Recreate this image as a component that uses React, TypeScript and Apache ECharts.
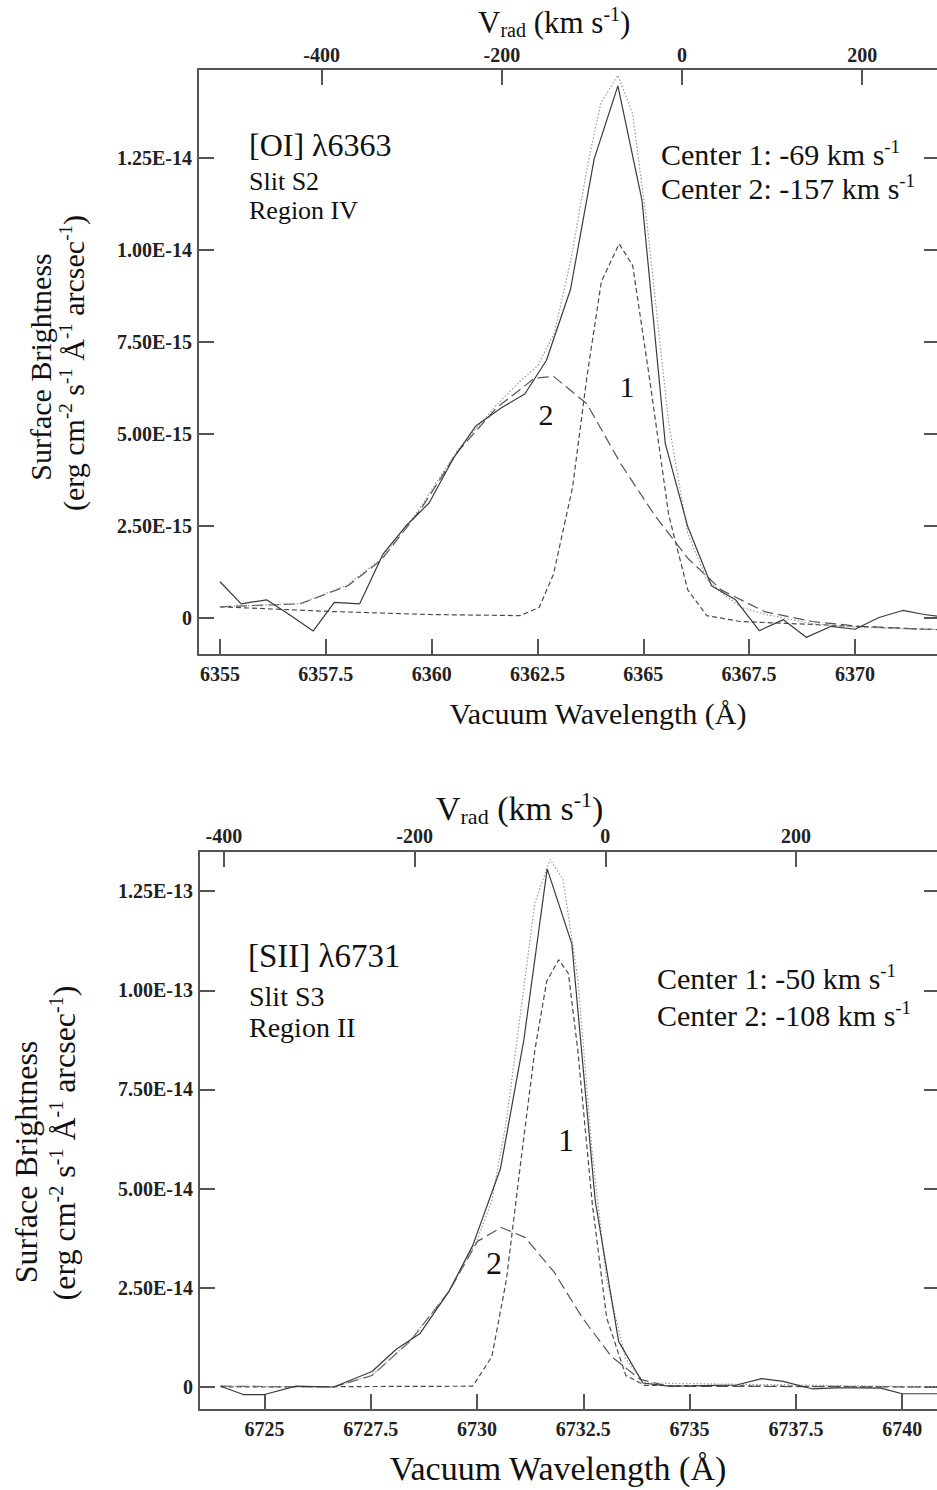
import React, { useEffect, useRef } from "react";
import * as echarts from "echarts";

// ---------- Top panel: [OI] λ6363, Slit S2, Region IV (flux in units of 1e-15) ----------
const oiObsWave = [6355.0, 6355.5, 6356.1, 6356.67, 6357.2, 6357.7, 6358.3, 6358.85, 6359.38, 6359.94, 6360.5, 6361.05, 6361.64, 6362.2, 6362.71, 6363.28, 6363.84, 6364.4, 6364.97, 6365.52, 6366.05, 6366.61, 6367.18, 6367.74, 6368.31, 6368.85, 6369.44, 6370.0, 6370.57, 6371.13, 6371.64, 6372.0];
const oiObsFlux = [0.99, 0.39, 0.5, 0.07, -0.35, 0.43, 0.39, 1.74, 2.49, 3.13, 4.32, 5.23, 5.71, 6.09, 7.0, 8.93, 12.48, 14.46, 11.35, 4.74, 2.49, 0.88, 0.5, -0.34, -0.04, -0.52, -0.22, -0.3, 0.02, 0.21, 0.1, 0.05];

const oiFitWave = [6355.0, 6356.9, 6358.0, 6358.8, 6359.7, 6360.6, 6361.5, 6362.1, 6362.5, 6362.9, 6363.3, 6363.7, 6364.0, 6364.4, 6364.75, 6365.1, 6365.6, 6366.05, 6366.5, 6366.85, 6367.3, 6367.9, 6369.0, 6370.1, 6371.6, 6372.0];
const oiFitFlux = [0.31, 0.4, 0.9, 1.6, 2.95, 4.55, 5.75, 6.45, 6.85, 7.75, 9.8, 12.4, 14.0, 14.75, 13.7, 10.6, 5.3, 2.3, 1.05, 0.7, 0.3, 0.1, -0.15, -0.25, -0.3, -0.31];

const oiC1Wave = [6355.0, 6357.68, 6359.94, 6362.09, 6362.54, 6362.88, 6363.33, 6363.67, 6364.01, 6364.43, 6364.75, 6365.14, 6365.6, 6366.05, 6366.5, 6367.29, 6368.99, 6371.64, 6372.0];
const oiC1Flux = [0.31, 0.18, 0.1, 0.07, 0.29, 1.2, 3.56, 6.57, 9.15, 10.17, 9.58, 6.57, 2.81, 0.77, 0.07, -0.09, -0.17, -0.3, -0.31];

const oiC2Wave = [6355.0, 6356.89, 6358.02, 6358.81, 6359.72, 6360.62, 6361.53, 6362.43, 6362.88, 6363.67, 6364.46, 6365.26, 6366.05, 6366.84, 6367.86, 6368.99, 6370.12, 6371.64, 6372.0];
const oiC2Flux = [0.31, 0.39, 0.88, 1.58, 2.92, 4.53, 5.71, 6.52, 6.57, 5.82, 4.21, 2.81, 1.63, 0.77, 0.18, -0.09, -0.22, -0.3, -0.31];

// ---------- Bottom panel: [SII] λ6731, Slit S3, Region II (flux in units of 1e-14) ----------
const siiObsWave = [6723.97, 6724.5, 6725.0, 6725.74, 6726.63, 6727.53, 6728.1, 6728.66, 6729.34, 6729.9, 6730.55, 6731.1, 6731.65, 6732.23, 6732.78, 6733.33, 6733.9, 6734.5, 6735.1, 6735.6, 6736.1, 6736.7, 6737.2, 6737.9, 6738.45, 6739.0, 6739.5, 6740.0, 6740.55, 6740.89];
const siiObsFlux = [0.02, -0.19, -0.19, 0.02, 0.0, 0.39, 0.95, 1.35, 2.41, 3.57, 5.5, 8.74, 13.06, 11.17, 4.7, 1.15, 0.1, 0.02, 0.03, 0.04, 0.05, 0.21, 0.14, -0.05, -0.02, -0.02, -0.03, -0.17, -0.17, -0.17];

const siiFitWave = [6723.97, 6726.63, 6727.53, 6728.43, 6729.34, 6730.0, 6730.35, 6730.69, 6731.02, 6731.36, 6731.72, 6732.02, 6732.37, 6732.71, 6733.05, 6733.5, 6733.95, 6740.89];
const siiFitFlux = [0.02, 0.0, 0.3, 1.17, 2.42, 3.7, 4.7, 6.7, 9.4, 12.2, 13.3, 12.8, 10.3, 5.9, 2.7, 0.7, 0.1, 0.0];

const siiC1Wave = [6723.97, 6729.9, 6730.35, 6730.69, 6731.02, 6731.36, 6731.64, 6731.92, 6732.15, 6732.37, 6732.71, 6733.05, 6733.5, 6733.95, 6740.89];
const siiC1Flux = [0.0, 0.02, 0.77, 2.7, 5.6, 8.49, 10.23, 10.77, 10.42, 8.49, 4.63, 1.74, 0.29, 0.04, 0.0];

const siiC2Wave = [6723.97, 6726.63, 6727.53, 6728.43, 6729.34, 6730.01, 6730.57, 6731.13, 6731.81, 6732.48, 6733.16, 6733.84, 6734.5, 6740.89];
const siiC2Flux = [0.02, 0.0, 0.29, 1.16, 2.41, 3.67, 4.02, 3.77, 2.9, 1.74, 0.77, 0.19, 0.02, 0.0];

// ---------- Tick values ----------
const oiWaveTicks = [6355, 6357.5, 6360, 6362.5, 6365, 6367.5, 6370];
const siiWaveTicks = [6725, 6727.5, 6730, 6732.5, 6735, 6737.5, 6740];
const velTicks = [-400, -200, 0, 200];
const fluxTicks = [0, 2.5, 5, 7.5, 10, 12.5];

const SERIF = '"Liberation Serif", "Times New Roman", "DejaVu Serif", serif';
const INK = "#111";
const AXIS = "#555";

const zip = (xs: number[], ys: number[]) => xs.map((x, i) => [x, ys[i]]);

function fmtFlux(scale: number) {
  return (v: number) => {
    if (Math.abs(v) < 1e-9) return "0";
    return (v * scale).toExponential(2).toUpperCase();
  };
}

function plainText(x: number, baseline: number, text: string, size: number, align = "left") {
  return {
    type: "text",
    x,
    y: baseline - 0.35 * size,
    silent: true,
    style: {
      text,
      fontFamily: SERIF,
      fontSize: size,
      lineHeight: Math.round(size * 0.85),
      fill: INK,
      align,
      verticalAlign: "middle",
    },
  };
}

function richText(x: number, y: number, text: string, size: number, align = "left", rotation = 0) {
  const lh = Math.round(size * 1.15);
  return {
    type: "text",
    x,
    y,
    rotation,
    silent: true,
    style: {
      text,
      fontFamily: SERIF,
      fontSize: size,
      lineHeight: lh,
      fill: INK,
      align,
      verticalAlign: "middle",
      rich: {
        sup: { fontFamily: SERIF, fontSize: Math.round(size * 0.64), lineHeight: Math.round(size * 0.47), verticalAlign: "top", fill: INK },
        sub: { fontFamily: SERIF, fontSize: Math.round(size * 0.64), lineHeight: Math.round(size * 0.62), verticalAlign: "bottom", fill: INK },
      },
    },
  };
}

function axisCommon(ticks: number[], labelMargin: number, showLabel = true, fmt?: (v: number) => string) {
  return {
    type: "value",
    scale: true,
    axisLine: { show: true, onZero: false, lineStyle: { color: AXIS, width: 2 } },
    axisTick: { show: true, inside: true, length: 16, lineStyle: { color: AXIS, width: 2 }, customValues: ticks },
    axisLabel: {
      show: showLabel,
      customValues: ticks,
      fontFamily: SERIF,
      fontSize: 20,
      fontWeight: "bold",
      color: "#222",
      margin: labelMargin,
      formatter: fmt ? fmt : (v: number) => String(v),
    },
    splitLine: { show: false },
  };
}

function lineSeries(x: number, y: number, data: number[][], style: any, z: number) {
  return {
    type: "line",
    xAxisIndex: x,
    yAxisIndex: y,
    data,
    showSymbol: false,
    symbol: "none",
    silent: true,
    z,
    lineStyle: style,
  };
}

function digit(x: number, y: number, text: string, size: number) {
  return {
    type: "text",
    x,
    y,
    silent: true,
    style: { text, fontFamily: SERIF, fontSize: size, fill: INK, align: "center", verticalAlign: "middle" },
  };
}

export default function App() {
  const ref = useRef<HTMLDivElement>(null);

  useEffect(() => {
    if (!ref.current) return;
    const chart = echarts.init(ref.current, undefined, { renderer: "svg" });

    const obsStyle = { color: "#3a3a3a", width: 1.2, type: "solid" };
    const fitStyle = { color: "#999", width: 1.2, type: [1.5, 2] };
    const c1Style = { color: "#4a4a4a", width: 1.2, type: [5, 3] };
    const c2Style = { color: "#555", width: 1.2, type: [11, 5] };

    const option: any = {
      animation: false,
      backgroundColor: "#fff",
      grid: [
        { left: 198, top: 69, width: 742, height: 586, containLabel: false },
        { left: 199, top: 851, width: 741, height: 559, containLabel: false },
      ],
      xAxis: [
        { ...axisCommon(oiWaveTicks, 9), gridIndex: 0, position: "bottom", min: 6354.48, max: 6372.01 },
        { ...axisCommon(velTicks, 4), gridIndex: 0, position: "top", min: -537.2, max: 286.3 },
        { ...axisCommon(siiWaveTicks, 9), gridIndex: 1, position: "bottom", min: 6723.46, max: 6740.89 },
        { ...axisCommon(velTicks, 5), gridIndex: 1, position: "top", min: -426.1, max: 350.9 },
      ],
      yAxis: [
        { ...axisCommon(fluxTicks, 6, true, fmtFlux(1e-15)), gridIndex: 0, position: "left", min: -1.0, max: 14.92 },
        { ...axisCommon(fluxTicks, 6, false), gridIndex: 0, position: "right", min: -1.0, max: 14.92 },
        { ...axisCommon(fluxTicks, 6, true, fmtFlux(1e-14)), gridIndex: 1, position: "left", min: -0.58, max: 13.51 },
        { ...axisCommon(fluxTicks, 6, false), gridIndex: 1, position: "right", min: -0.58, max: 13.51 },
      ],
      series: [
        lineSeries(0, 0, zip(oiC2Wave, oiC2Flux), c2Style, 2),
        lineSeries(0, 0, zip(oiC1Wave, oiC1Flux), c1Style, 3),
        lineSeries(0, 0, zip(oiFitWave, oiFitFlux), fitStyle, 4),
        lineSeries(0, 0, zip(oiObsWave, oiObsFlux), obsStyle, 5),
        lineSeries(2, 2, zip(siiC2Wave, siiC2Flux), c2Style, 2),
        lineSeries(2, 2, zip(siiC1Wave, siiC1Flux), c1Style, 3),
        lineSeries(2, 2, zip(siiFitWave, siiFitFlux), fitStyle, 4),
        lineSeries(2, 2, zip(siiObsWave, siiObsFlux), obsStyle, 5),
      ],
      graphic: [
        // top velocity axis titles
        richText(478, 22, "V{sub|rad} (km s{sup|-1})", 31),
        richText(436, 808, "V{sub|rad} (km s{sup|-1})", 34),
        // bottom axis titles
        plainText(598, 724, "Vacuum Wavelength (Å)", 30, "center"),
        plainText(558, 1480, "Vacuum Wavelength (Å)", 34, "center"),
        // y axis titles (rotated)
        richText(40, 367, "Surface Brightness", 30, "center", Math.PI / 2),
        richText(73, 363, "(erg cm{sup|-2} s{sup|-1} Å{sup|-1} arcsec{sup|-1})", 30, "center", Math.PI / 2),
        richText(26, 1162, "Surface Brightness", 32, "center", Math.PI / 2),
        richText(64, 1143, "(erg cm{sup|-2} s{sup|-1} Å{sup|-1} arcsec{sup|-1})", 32, "center", Math.PI / 2),
        // top panel annotations
        plainText(249, 156, "[OI] λ6363", 32),
        plainText(249, 191, "Slit S2", 26),
        plainText(249, 220, "Region IV", 26),
        richText(661, 165 - 0.35 * 30, "Center 1: -69 km s{sup|-1}", 30),
        richText(661, 199 - 0.35 * 30, "Center 2: -157 km s{sup|-1}", 30),
        digit(627, 386, "1", 30),
        digit(546, 414, "2", 30),
        // bottom panel annotations
        plainText(248, 968, "[SII] λ6731", 33),
        plainText(249, 1006, "Slit S3", 28),
        plainText(249, 1037, "Region II", 28),
        richText(657, 989 - 0.35 * 30, "Center 1: -50 km s{sup|-1}", 30),
        richText(657, 1026 - 0.35 * 30, "Center 2: -108 km s{sup|-1}", 30),
        digit(566, 1140, "1", 32),
        digit(494, 1263, "2", 32),
      ],
    };

    chart.setOption(option);
    return () => {
      chart.dispose();
    };
  }, []);

  return (
    <div style={{ position: "absolute", left: 0, top: 0, width: 937, height: 1490, overflow: "hidden", background: "#fff" }}>
      <div ref={ref} style={{ width: 950, height: 1490 }} />
    </div>
  );
}
